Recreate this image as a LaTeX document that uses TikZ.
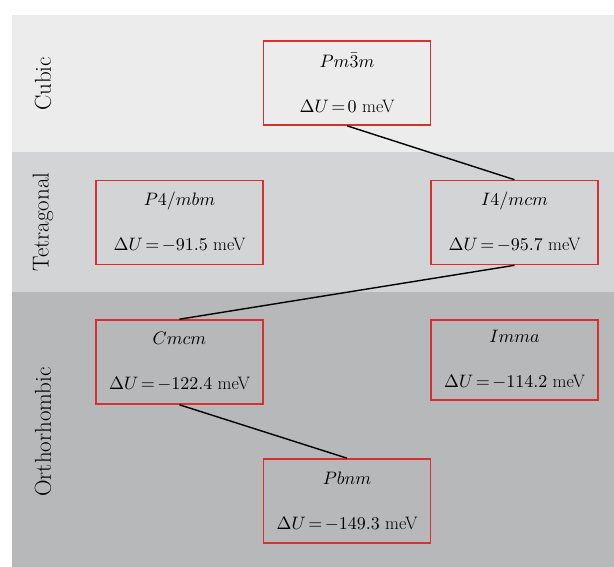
\documentclass[tikz,border=0pt]{standalone}
\usepackage{fontspec}
\DeclareFontShape{OML}{cmm}{m}{it}{<-> cmmi10}{}
\DeclareFontShape{OMS}{cmsy}{m}{n}{<-> cmsy10}{}
\DeclareFontShape{OT1}{cmr}{m}{n}{<-> cmr10}{}
\usetikzlibrary{positioning}
\definecolor{bandA}{HTML}{ECECEC}
\definecolor{bandB}{HTML}{D2D4D6}
\definecolor{bandC}{HTML}{B6B8BA}
\definecolor{boxred}{HTML}{D8302E}
\newcommand{\tightmath}{\thickmuskip=2.5mu plus 1mu\medmuskip=2mu}
\begin{document}
\begin{tikzpicture}[x=1pt,y=-1pt,
  phase/.style={draw=boxred, line width=1.6pt, minimum width=167pt, minimum height=84pt,
    inner sep=0pt, align=center, font=\fontsize{18}{45}\selectfont\tightmath},
  shortphase/.style={phase, minimum height=80pt},
  bandlabel/.style={rotate=90, font=\fontsize{23}{26}\selectfont, inner sep=0pt},
  link/.style={line width=1.4pt, black}]
\useasboundingbox (0,0) rectangle (614,567);
\fill[white] (0,0) rectangle (614,567);
\fill[bandA] (12,15) rectangle (614,152);
\fill[bandB] (12,152) rectangle (614,292);
\fill[bandC] (12,292) rectangle (614,567);
\node[bandlabel] (lc) at (43,84) {Cubic};
\node[bandlabel] (lt) at (43,222) {Tetragonal};
\node[bandlabel] (lo) at (43,432) {Orthorhombic};
\node[phase] (pm) at (347,83) {$Pm\bar{3}m$\\$\Delta U = 0$ meV};
\node[phase] (p4) at (179.5,222.5) {$P4/mbm$\\$\Delta U = -91.5$ meV};
\node[phase] (i4) at (514.5,222.5) {$I4/mcm$\\$\Delta U = -95.7$ meV};
\node[phase] (cm) at (179.5,362) {$Cmcm$\\$\Delta U = -122.4$ meV};
\node[shortphase] (im) at (514.5,360) {$Imma$\\$\Delta U = -114.2$ meV};
\node[phase] (pb) at (347,501) {$Pbnm$\\$\Delta U = -149.3$ meV};
\draw[link] (pm.south) -- (i4.north);
\draw[link] (i4.south) -- (cm.north);
\draw[link] (cm.south) -- (pb.north);
\end{tikzpicture}
\end{document}
